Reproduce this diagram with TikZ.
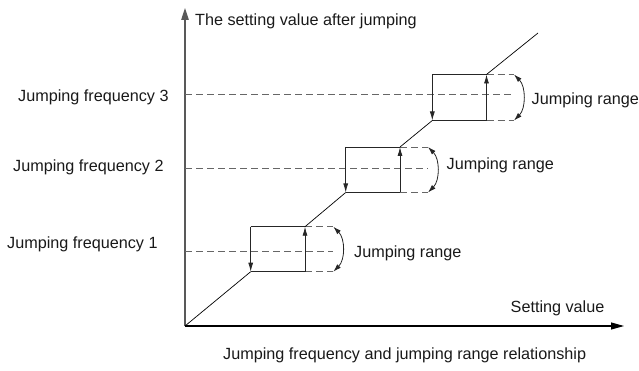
\documentclass[tikz,border=0pt]{standalone}
\usepackage{fontspec}
\setmainfont{Liberation Sans}
\usetikzlibrary{arrows.meta}
\begin{document}
\begin{tikzpicture}[x=1pt,y=-1pt,
  axisline/.style={line width=1.1pt, draw=#1},
  dashline/.style={draw=black!60, line width=0.9pt, dash pattern=on 7pt off 4pt},
  edge/.style={draw=black!85, line width=0.8pt},
  jumparrow/.style={draw=black!85, line width=0.8pt, -{Latex[length=9pt,width=5pt]}},
  rangearc/.style={draw=black!85, line width=0.8pt, {Latex[length=8pt,width=5pt]}-{Latex[length=8pt,width=5pt]}},
  diag/.style={draw=black, line width=0.7pt},
  lbl/.style={inner sep=0pt, anchor=base west, font=\fontsize{16.2}{19}\selectfont, text=black!90}
]
\useasboundingbox (0,0) rectangle (639,371);

% axes
\coordinate (O) at (185,326);
\coordinate (Ytip) at (185,8);
\coordinate (Xtip) at (624,326);
\draw[axisline=black!65, -{Triangle[length=12pt,width=7.5pt]}] (O) -- (Ytip);
\draw[axisline=black, -{Triangle[length=13pt,width=7pt]}] (O) -- (Xtip);

% boxes: index / left / right / top / bottom / centre / dashed end / arc peak
\foreach \i/\l/\r/\t/\b/\c/\e in {
  1/250.7/305/226.7/271.7/251.7/333.3,
  2/345.7/400/147/192.5/168.3/428,
  3/432.3/486.5/74.5/120.5/94.3/514}{
  \coordinate (tl\i) at (\l,\t);
  \coordinate (tr\i) at (\r,\t);
  \coordinate (bl\i) at (\l,\b);
  \coordinate (br\i) at (\r,\b);
  \coordinate (et\i) at (\e,\t);
  \coordinate (eb\i) at (\e,\b);
  \coordinate (ec\i) at (\e,\c);
  \coordinate (ax\i) at (185,\c);
  \coordinate (ct\i) at (\e+12,\t+12);
  \coordinate (cb\i) at (\e+12,\b-12);
}

\foreach \i in {1,2,3}{
  \draw[dashline] (ax\i) -- (ec\i);
  \draw[dashline] (tr\i) -- (et\i);
  \draw[dashline] (br\i) -- (eb\i);
  \draw[edge] (tl\i) -- (tr\i);
  \draw[edge] (bl\i) -- (br\i);
  \draw[jumparrow] (tl\i) -- (bl\i);
  \draw[jumparrow] (br\i) -- (tr\i);
  \draw[rangearc] (et\i) .. controls (ct\i) and (cb\i) .. (eb\i);
}

% diagonal characteristic
\coordinate (End) at (538,33);
\draw[diag] (O) -- (bl1);
\draw[diag] (tr1) -- (bl2);
\draw[diag] (tr2) -- (bl3);
\draw[diag] (tr3) -- (End);

% labels
\node[lbl] (ylab) at (195,25.5) {The setting value after jumping};
\node[lbl] (xlab) at (510.5,312.5) {Setting value};
\node[lbl] (f3) at (18,101.5) {Jumping frequency 3};
\node[lbl] (f2) at (13,171.5) {Jumping frequency 2};
\node[lbl] (f1) at (7,248.5) {Jumping frequency 1};
\node[lbl] (r1) at (354,257) {Jumping range};
\node[lbl] (r2) at (446.5,169.5) {Jumping range};
\node[lbl] (r3) at (531.5,105) {Jumping range};
\node[lbl] (cap) at (223,359) {Jumping frequency and jumping range relationship};
\end{tikzpicture}
\end{document}
